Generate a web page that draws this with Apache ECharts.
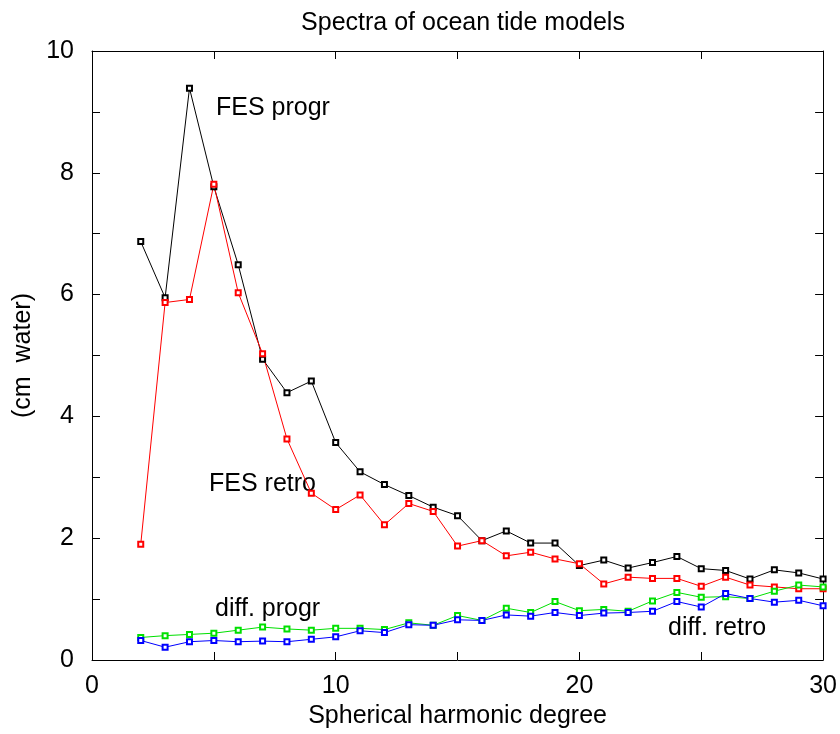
<!DOCTYPE html>
<html>
<head>
<meta charset="utf-8">
<script src="https://cdn.jsdelivr.net/npm/echarts@6/dist/echarts.min.js"></script>
<style>
  html, body { margin: 0; padding: 0; background: #fff; }
  #chart { width: 840px; height: 734px; }
</style>
</head>
<body>
<div id="chart"></div>
<script>
// spectra of ocean tide models, degree 2..30
const degrees = [2, 3, 4, 5, 6, 7, 8, 9, 10, 11, 12, 13, 14, 15, 16, 17, 18, 19, 20, 21, 22, 23, 24, 25, 26, 27, 28, 29, 30];
const fesProgr = [6.87, 5.95, 9.39, 7.77, 6.49, 4.94, 4.39, 4.58, 3.57, 3.09, 2.88, 2.70, 2.51, 2.37, 1.96, 2.12, 1.92, 1.92, 1.55, 1.64, 1.51, 1.60, 1.70, 1.50, 1.47, 1.33, 1.48, 1.43, 1.33];
const fesRetro = [1.90, 5.87, 5.92, 7.81, 6.03, 5.03, 3.63, 2.74, 2.47, 2.71, 2.22, 2.57, 2.44, 1.87, 1.96, 1.71, 1.77, 1.66, 1.58, 1.25, 1.36, 1.34, 1.34, 1.21, 1.36, 1.23, 1.20, 1.17, 1.17];
const diffProgr = [0.37, 0.40, 0.42, 0.44, 0.49, 0.54, 0.51, 0.49, 0.52, 0.52, 0.50, 0.61, 0.57, 0.73, 0.65, 0.85, 0.78, 0.96, 0.81, 0.83, 0.80, 0.97, 1.11, 1.03, 1.04, 1.01, 1.13, 1.23, 1.20];
const diffRetro = [0.32, 0.21, 0.30, 0.32, 0.30, 0.31, 0.30, 0.34, 0.38, 0.48, 0.45, 0.58, 0.57, 0.66, 0.65, 0.74, 0.72, 0.78, 0.73, 0.77, 0.78, 0.80, 0.96, 0.87, 1.09, 1.01, 0.95, 0.98, 0.89];

const FONT = '"Liberation Sans", Arial, sans-serif';

function pairs(vals) {
    return degrees.map((d, i) => [d, vals[i]]);
}

function line(name, vals, color) {
    return {
        name: name,
        type: 'line',
        data: pairs(vals),
        symbol: 'emptyRect',
        symbolSize: 5,
        color: color,
        lineStyle: { width: 1, color: color },
        itemStyle: { color: color, borderWidth: 1 },
        animation: false
    };
}

const chart = echarts.init(document.getElementById('chart'));

const axisBase = {
    type: 'value',
    axisLine: { show: true, onZero: false, lineStyle: { color: '#000', width: 1 } },
    axisTick: { show: true, inside: true, length: 8, lineStyle: { color: '#000' } },
    splitLine: { show: false }
};

chart.setOption({
    backgroundColor: '#fff',
    textStyle: { fontFamily: FONT },
    title: {
        text: 'Spectra of ocean tide models',
        left: 458, top: 6, textAlign: 'center',
        textStyle: { fontFamily: FONT, fontSize: 25, fontWeight: 'normal', color: '#000' }
    },
    grid: { left: 92, right: 16, top: 51, bottom: 74 },
    xAxis: [
        Object.assign({}, axisBase, {
            min: 0, max: 30, interval: 5,
            name: 'Spherical harmonic degree',
            nameLocation: 'middle', nameGap: 40,
            nameTextStyle: { fontFamily: FONT, fontSize: 25, color: '#000' },
            axisLabel: {
                margin: 14, fontFamily: FONT, fontSize: 25, color: '#000',
                formatter: v => (v % 10 === 0 ? String(v) : '')
            }
        }),
        Object.assign({}, axisBase, {
            min: 0, max: 30, interval: 5, position: 'top',
            axisLabel: { show: false }
        })
    ],
    yAxis: [
        Object.assign({}, axisBase, {
            min: 0, max: 10, interval: 1,
            name: '(cm  water)',
            nameLocation: 'middle', nameGap: 54, nameRotate: 90,
            nameTextStyle: { fontFamily: FONT, fontSize: 25, color: '#000' },
            axisLabel: {
                margin: 18, fontFamily: FONT, fontSize: 25, color: '#000',
                formatter: v => (v % 2 === 0 ? String(v) : '')
            }
        }),
        Object.assign({}, axisBase, {
            min: 0, max: 10, interval: 1, position: 'right',
            axisLabel: { show: false }
        })
    ],
    graphic: [
        { type: 'text', left: 216, top: 96, style: { text: 'FES progr', fontFamily: FONT, fontSize: 25, fill: '#000' } },
        { type: 'text', left: 209, top: 472, style: { text: 'FES retro', fontFamily: FONT, fontSize: 25, fill: '#000' } },
        { type: 'text', left: 215, top: 597, style: { text: 'diff. progr', fontFamily: FONT, fontSize: 25, fill: '#000' } },
        { type: 'text', left: 668, top: 616, style: { text: 'diff. retro', fontFamily: FONT, fontSize: 25, fill: '#000' } }
    ],
    series: [
        line('FES progr', fesProgr, '#000000'),
        line('FES retro', fesRetro, '#ff0000'),
        line('diff. progr', diffProgr, '#00e000'),
        line('diff. retro', diffRetro, '#0000ff')
    ]
});
</script>
</body>
</html>
